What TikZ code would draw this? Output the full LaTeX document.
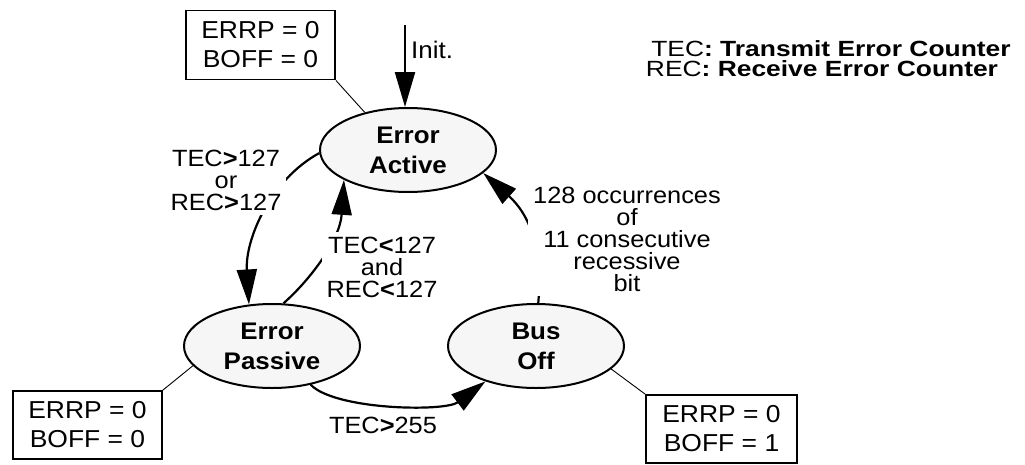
\documentclass[tikz,border=0pt]{standalone}
\usepackage{fontspec}
\setmainfont{Liberation Sans}[FakeStretch=1.08]
\newfontfamily\legendfont{Liberation Sans}[FakeStretch=1.2]
\usetikzlibrary{arrows.meta,shapes.geometric}
\begin{document}
\begin{tikzpicture}[x=1pt,y=-1pt,
  state/.style={ellipse,draw,line width=2pt,fill=gray!7,minimum width=176pt,minimum height=84pt,inner sep=0pt,align=center,font=\fontsize{24}{30}\selectfont\bfseries},
  flagbox/.style={draw,line width=1.8pt,minimum width=149pt,minimum height=69pt,inner sep=0pt,align=center,font=\fontsize{24.5}{29}\selectfont},
  lbl/.style={fill=white,inner sep=5pt,align=center,font=\fontsize{23.5}{22}\selectfont},
  legend/.style={inner sep=0pt,font=\legendfont\fontsize{22}{20}\selectfont},
  trans/.style={line width=2.2pt,-{Triangle[length=35pt,width=20pt]}},
  leader/.style={line width=0.9pt},
]
\useasboundingbox (0,0) rectangle (1025,464);

% states
\node[state] (ea) at (408,150) {Error\\Active};
\node[state] (ep) at (272,346) {Error\\Passive};
\node[state] (bo) at (536,346) {Bus\\Off};

% flag boxes
\node[flagbox] (b1) at (260.5,45) {ERRP = 0\\BOFF = 0};
\node[flagbox,minimum height=68pt] (b2) at (87.5,425) {ERRP = 0\\BOFF = 0};
\node[flagbox,minimum width=151pt,minimum height=68pt] (b3) at (721.5,429) {ERRP = 0\\BOFF = 1};

% leaders
\draw[leader] (b1.south east) -- (ea.139);
\draw[leader] (b2.north east) -- (ep.194);
\draw[leader] (b3.north west) -- (bo.343);

% init
\coordinate (init) at (405,25);
\draw[trans] (init) -- (init |- ea.north);
\node[anchor=west,inner sep=0pt,font=\fontsize{24}{22}\selectfont] (initl) at (411,50) {Init.};

% transitions
\draw[trans] (ea.182) .. controls (270,180) and (245,240) .. (ep.119);
\draw[trans] (ep.75) .. controls (310,280) and (340,240) .. (ea.205);
\draw[trans] (ep.-45) .. controls (335,410) and (445,412) .. (bo.215);
\draw[trans] (bo.87) .. controls (543,250) and (530,215) .. (ea.-17);

% labels
\node[lbl] (l1) at (226,180) {TEC\textbf{>}127\\or\\REC\textbf{>}127};
\node[lbl] (l2) at (382,267) {TEC\textbf{<}127\\and\\REC\textbf{<}127};
\node[lbl] (l3) at (383,425) {TEC\textbf{>}255};
\node[lbl] (l4) at (627,239) {128 occurrences\\of\\11 consecutive\\recessive\\bit};

% legend
\node[legend,anchor=base] (lg1) at (831,56) {TEC\textbf{: Transmit Error Counter}};
\node[legend,anchor=base] (lg2) at (822,76) {REC\textbf{: Receive Error Counter}};
\end{tikzpicture}
\end{document}
